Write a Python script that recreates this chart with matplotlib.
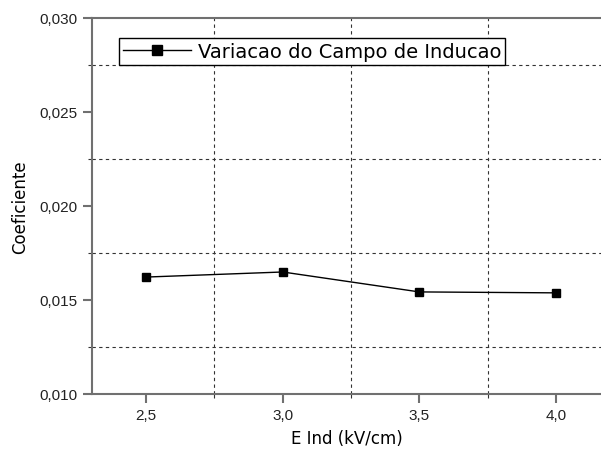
import matplotlib.pyplot as plt
from matplotlib.ticker import MultipleLocator, FuncFormatter

plt.rcParams['font.family'] = ['Liberation Sans', 'DejaVu Sans']

# dados: campo de inducao (kV/cm) e coeficiente
E_ind = [2.5, 3.0, 3.5, 4.0]
coef = [0.01622, 0.01649, 0.01543, 0.01538]

fig = plt.figure(figsize=(6.01, 4.52), dpi=100)
ax = fig.add_axes([92 / 601, 57 / 452, 1 - 92 / 601, 376 / 452])

ax.plot(E_ind, coef, color='black', lw=1.0, marker='s', ms=5.5,
        label='Variacao do Campo de Inducao')

ax.set_xlim(2.302, 4.165)
ax.set_ylim(0.010, 0.030)

ax.xaxis.set_major_locator(MultipleLocator(0.5))
ax.xaxis.set_minor_locator(MultipleLocator(0.25))
ax.yaxis.set_major_locator(MultipleLocator(0.005))
ax.yaxis.set_minor_locator(MultipleLocator(0.0025))
ax.xaxis.set_major_formatter(FuncFormatter(lambda v, p: f'{v:.1f}'.replace('.', ',')))
ax.yaxis.set_major_formatter(FuncFormatter(lambda v, p: f'{v:.3f}'.replace('.', ',')))

# grade so nas posicoes secundarias (estilo Origin)
ax.grid(True, which='minor', color='#333333', ls=(0, (3, 3)), lw=0.8)
ax.grid(False, which='major')

for s in ['left', 'bottom', 'top']:
    ax.spines[s].set_color('#707070')
    ax.spines[s].set_linewidth(1.5)
ax.spines['right'].set_visible(False)

ax.tick_params(axis='both', which='major', direction='out', length=6.5, width=1.5,
               color='#707070', labelsize=11, labelcolor='#222222', pad=3.6)
ax.tick_params(axis='both', which='minor', direction='out', length=3, width=0.8,
               color='#333333')

ax.set_xlabel('E Ind (kV/cm)', fontsize=12, family='DejaVu Sans', labelpad=5)
ax.set_ylabel('Coeficiente', fontsize=12, family='DejaVu Sans', labelpad=8)

leg = ax.legend(loc='upper left', bbox_to_anchor=(119 / 601, 1 - 39 / 452),
                bbox_transform=fig.transFigure,
                prop={'family': 'DejaVu Sans', 'size': 14},
                fancybox=False, framealpha=1, edgecolor='black',
                handlelength=3.5, handletextpad=0.35, markerscale=1.4,
                borderpad=0.2, borderaxespad=0)
leg.get_frame().set_linewidth(1.0)

fig.savefig('out.png', dpi=100)
